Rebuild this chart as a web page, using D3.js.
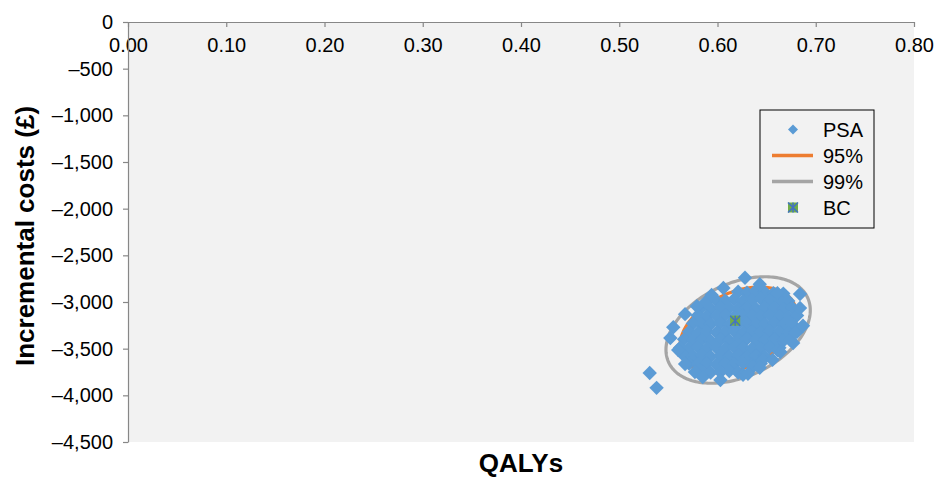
<!DOCTYPE html>
<html>
<head>
<meta charset="utf-8">
<script src="https://cdn.jsdelivr.net/npm/d3@7"></script>
<style>
  body { margin: 0; background: #fff; }
  svg { font-family: "Liberation Sans", Arial, sans-serif; }
</style>
</head>
<body>
<svg id="chart" width="935" height="478"></svg>
<script>
// PSA samples [QALYs, incremental cost]
var psa = [
  [0.621,-2890],[0.630,-2900],[0.639,-2880],[0.648,-2895],[0.657,-2905],[0.667,-2910],
  [0.598,-2975],[0.608,-2985],[0.617,-2970],[0.626,-2990],[0.635,-2980],[0.644,-2965],[0.653,-2985],[0.663,-2975],[0.672,-2990],
  [0.584,-3060],[0.593,-3070],[0.603,-3055],[0.612,-3065],[0.621,-3075],[0.630,-3060],[0.639,-3070],[0.648,-3055],[0.658,-3065],[0.667,-3075],[0.676,-3060],
  [0.580,-3145],[0.589,-3155],[0.599,-3150],[0.608,-3140],[0.617,-3160],[0.626,-3150],[0.635,-3145],[0.644,-3155],[0.653,-3140],[0.663,-3150],[0.672,-3160],[0.681,-3145],
  [0.575,-3230],[0.584,-3240],[0.593,-3235],[0.603,-3225],[0.612,-3245],[0.621,-3235],[0.630,-3230],[0.639,-3240],[0.648,-3235],[0.658,-3225],[0.667,-3240],[0.676,-3235],
  [0.571,-3320],[0.580,-3330],[0.589,-3315],[0.599,-3325],[0.608,-3320],[0.617,-3310],[0.626,-3330],[0.635,-3320],[0.644,-3325],[0.653,-3315],[0.663,-3320],[0.672,-3330],[0.681,-3320],
  [0.566,-3400],[0.575,-3410],[0.584,-3405],[0.593,-3415],[0.603,-3400],[0.612,-3410],[0.621,-3405],[0.630,-3395],[0.639,-3410],[0.648,-3405],[0.658,-3400],[0.667,-3415],
  [0.562,-3490],[0.571,-3495],[0.580,-3485],[0.589,-3500],[0.599,-3490],[0.608,-3495],[0.617,-3485],[0.626,-3490],[0.635,-3500],[0.644,-3495],[0.653,-3485],[0.663,-3490],
  [0.566,-3575],[0.575,-3580],[0.584,-3570],[0.593,-3585],[0.603,-3575],[0.612,-3580],[0.621,-3570],[0.630,-3585],[0.639,-3575],[0.648,-3580],
  [0.571,-3660],[0.580,-3665],[0.589,-3655],[0.599,-3670],[0.608,-3660],[0.617,-3665],[0.626,-3655],[0.635,-3670],[0.644,-3660],
  [0.584,-3745],[0.593,-3755],[0.603,-3750],[0.612,-3740],[0.621,-3755],
  [0.628,-2740],[0.606,-2850],[0.643,-2810],[0.588,-3000],[0.567,-3130],[0.555,-3270],[0.552,-3385],
  [0.560,-3515],[0.567,-3665],[0.577,-3750],[0.585,-3805],[0.603,-3835],[0.626,-3780],[0.636,-3695],
  [0.646,-3620],[0.661,-3515],[0.677,-3440],[0.687,-3255],[0.684,-3065],[0.684,-2915],[0.661,-2905],
  [0.594,-2925],[0.579,-3045],[0.664,-3535],[0.674,-3405],[0.656,-3620],[0.679,-3330],[0.643,-3705],[0.631,-3770],
  [0.531,-3760],[0.538,-3920]
];

// base case
var baseCase = [0.618, -3200];

// confidence ellipses: PSA mean, sd, correlation, chi-square cut-offs
var ellipseCenter = [0.621, -3300];
var ellipseSd = [0.0242, 188];
var ellipseRho = 0.37;
var ellipseLevels = [
  { label: '99%', chi2: 9.210, color: '#a5a5a5' },
  { label: '95%', chi2: 5.991, color: '#ed7d31' }
];

var xTicks = [0, 0.1, 0.2, 0.3, 0.4, 0.5, 0.6, 0.7, 0.8];
var yTicks = [0, -500, -1000, -1500, -2000, -2500, -3000, -3500, -4000, -4500];

var margin = { top: 22, right: 21, bottom: 36, left: 128 };
var width = 935, height = 478;

var svg = d3.select('#chart');

var x = d3.scaleLinear().domain([0, 0.8]).range([margin.left, width - margin.right]);
var y = d3.scaleLinear().domain([-4500, 0]).range([height - margin.bottom, margin.top]);

svg.append('rect')
    .attr('x', x(0)).attr('y', y(0))
    .attr('width', x(0.8) - x(0)).attr('height', y(-4500) - y(0))
    .attr('fill', '#f2f2f2');

function fmtCost(v) {
    if (v === 0) return '0';
    return (v < 0 ? '\u2013' : '') + d3.format(',')(Math.abs(v));
}

var xAxis = svg.append('g')
    .attr('transform', 'translate(0,' + y(0) + ')')
    .call(d3.axisBottom(x).tickValues(xTicks).tickFormat(d3.format('.2f'))
        .tickSizeInner(5).tickSizeOuter(0).tickPadding(10.5));

var yAxis = svg.append('g')
    .attr('transform', 'translate(' + x(0) + ',0)')
    .call(d3.axisLeft(y).tickValues(yTicks).tickFormat(fmtCost)
        .tickSizeInner(5).tickSizeOuter(0).tickPadding(10));

[xAxis, yAxis].forEach(function (g) {
    g.selectAll('path, line').attr('stroke', '#878787').attr('stroke-width', 1.2);
    g.selectAll('text').attr('font-size', 20).attr('fill', '#000')
        .attr('font-family', '"Liberation Sans", Arial, sans-serif');
});

// ellipses
var steps = d3.range(0, 201);
var line = d3.line().x(function (d) { return x(d[0]); }).y(function (d) { return y(d[1]); });
ellipseLevels.forEach(function (lv) {
    var k = Math.sqrt(lv.chi2);
    var pts = steps.map(function (i) {
        var t = i / 200 * 2 * Math.PI;
        return [
            ellipseCenter[0] + k * ellipseSd[0] * Math.cos(t),
            ellipseCenter[1] + k * ellipseSd[1] * (ellipseRho * Math.cos(t) + Math.sqrt(1 - ellipseRho * ellipseRho) * Math.sin(t))
        ];
    });
    svg.append('path')
        .attr('d', line(pts))
        .attr('fill', 'none')
        .attr('stroke', lv.color)
        .attr('stroke-width', 3.2);
});

var diamond = function (r) { return 'M0,' + (-r) + 'L' + r + ',0L0,' + r + 'L' + (-r) + ',0Z'; };

svg.append('g').selectAll('path')
    .data(psa)
    .enter()
    .append('path')
    .attr('d', diamond(7.2))
    .attr('transform', function (d) { return 'translate(' + x(d[0]) + ',' + y(d[1]) + ')'; })
    .attr('fill', '#5b9bd5');

function drawBC(g) {
    g.append('rect').attr('x', -5).attr('y', -5).attr('width', 10).attr('height', 10).attr('fill', '#70ad47');
    g.append('path').attr('d', 'M-5,-5L5,5M5,-5L-5,5M0,-5L0,5')
        .attr('stroke', '#4472c4').attr('stroke-width', 1.5).attr('fill', 'none');
}

drawBC(svg.append('g').attr('transform', 'translate(' + x(baseCase[0]) + ',' + y(baseCase[1]) + ')'));

// legend
var legend = svg.append('g').attr('transform', 'translate(760,110)');
legend.append('rect')
    .attr('width', 114).attr('height', 118)
    .attr('fill', '#f2f2f2').attr('stroke', '#000').attr('stroke-width', 1);

var items = ['PSA', '95%', '99%', 'BC'];
items.forEach(function (name, i) {
    var cy = 19.5 + i * 26;
    var g = legend.append('g').attr('transform', 'translate(33,' + cy + ')');
    if (name === 'PSA') {
        g.append('path').attr('d', diamond(5)).attr('fill', '#5b9bd5');
    } else if (name === 'BC') {
        drawBC(g);
    } else {
        var lv = ellipseLevels.filter(function (l) { return l.label === name; })[0];
        g.append('line').attr('x1', -21).attr('x2', 20)
            .attr('stroke', lv.color).attr('stroke-width', 3.5);
    }
    legend.append('text')
        .attr('x', 63).attr('y', cy + 7.5)
        .attr('font-size', 20)
        .text(name);
});

// axis titles
svg.append('text')
    .attr('x', (x(0) + x(0.8)) / 2).attr('y', 472)
    .attr('text-anchor', 'middle')
    .attr('font-size', 26).attr('font-weight', 'bold')
    .text('QALYs');

svg.append('text')
    .attr('transform', 'translate(34,236) rotate(-90)')
    .attr('text-anchor', 'middle')
    .attr('font-size', 26).attr('font-weight', 'bold')
    .text('Incremental costs (£)');
</script>
</body>
</html>
